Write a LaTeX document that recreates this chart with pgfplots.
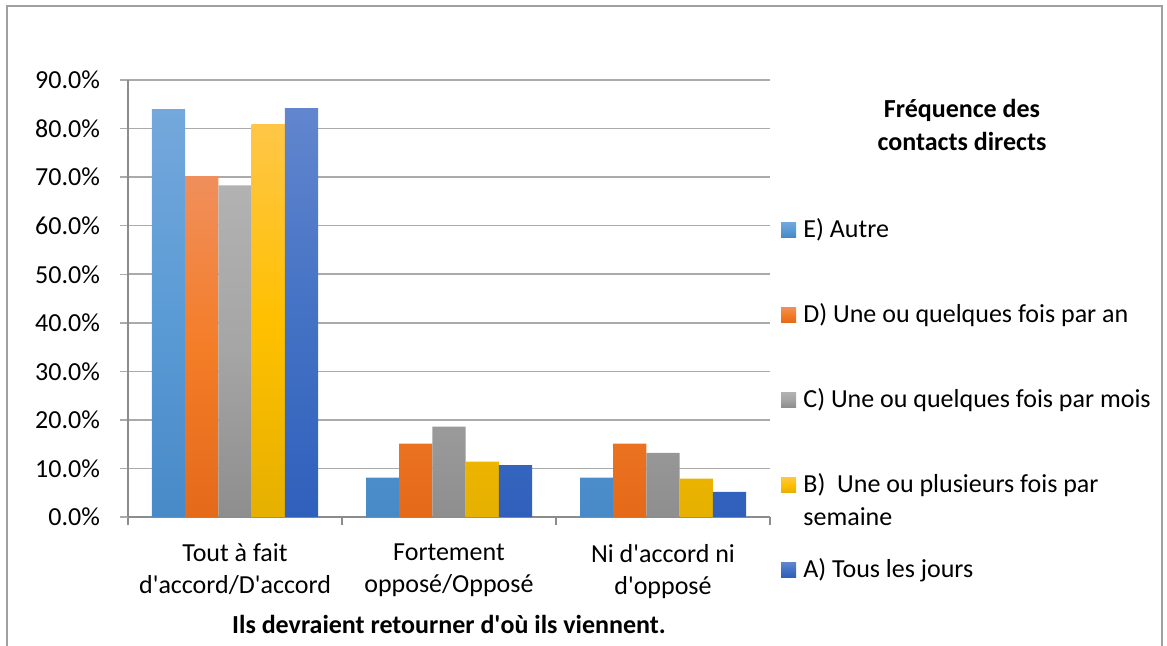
\documentclass[border=0pt]{standalone}
\usepackage{pgfplots}
\pgfplotsset{compat=1.18}
\usepackage{fontspec}
\setmainfont{Carlito}
\newcommand\q{\textquotesingle}
\definecolor{gridc}{RGB}{170,170,170}
\definecolor{axc}{RGB}{140,140,140}
\definecolor{frame}{RGB}{160,160,160}
\definecolor{Etop}{RGB}{116,168,220}\definecolor{Emid}{RGB}{91,155,213}\definecolor{Ebot}{RGB}{72,137,200}
\definecolor{Dtop}{RGB}{240,143,92}\definecolor{Dmid}{RGB}{244,125,40}\definecolor{Dbot}{RGB}{228,106,26}
\definecolor{Ctop}{RGB}{178,178,178}\definecolor{Cmid}{RGB}{165,165,165}\definecolor{Cbot}{RGB}{142,142,142}
\definecolor{Btop}{RGB}{255,198,72}\definecolor{Bmid}{RGB}{255,192,0}\definecolor{Bbot}{RGB}{230,176,0}
\definecolor{Atop}{RGB}{98,134,206}\definecolor{Amid}{RGB}{68,114,196}\definecolor{Abot}{RGB}{47,96,188}
\begin{document}
\fontsize{13}{16}\selectfont
\begin{tikzpicture}
\path[use as bounding box] (0,0) rectangle (583.5pt,-322.5pt);
\draw[frame, line width=0.6pt] (3.5pt,-330pt) -- (3.5pt,-3pt) -- (581pt,-3pt) -- (581pt,-330pt);
\begin{axis}[
  at={(64pt,-258.5pt)}, anchor=south west,
  width=321pt, height=218.5pt, scale only axis,
  xmin=-0.5, xmax=2.5, ymin=0, ymax=90,
  ytick={0,10,...,90},
  xtick={0,1,2},
  xticklabels={{Tout à fait\\d\q accord/D\q accord},{Fortement\\opposé/Opposé},{Ni d\q accord ni\\d\q opposé}},
  minor xtick={-0.5,0.5,1.5,2.5},
  xticklabel style={align=center, font=\fontsize{13}{16}\selectfont, yshift=-5pt},
  yticklabel style={font=\fontsize{13}{16}\selectfont, xshift=-5.5pt},
  yticklabel={\pgfmathprintnumber[fixed,fixed zerofill,precision=1]{\tick}\%},
  /pgf/number format/assume math mode=true,
  axis lines*=left,
  axis line style={axc, line width=0.7pt},
  tick align=outside,
  major x tick style={draw=none},
  minor x tick style={axc, line width=0.7pt},
  major y tick style={gridc, line width=0.7pt},
  major tick length=4pt, minor tick length=4pt,
  ymajorgrids, major grid style={gridc, line width=0.75pt},
  ybar=0pt, bar width=16.6pt,
  clip=false,
]
\addplot[draw=none, top color=Etop, bottom color=Ebot, middle color=Emid] coordinates {(0,84.0) (1,8.1) (2,8.1)};
\addplot[draw=none, top color=Dtop, bottom color=Dbot, middle color=Dmid] coordinates {(0,70.2) (1,15.1) (2,15.1)};
\addplot[draw=none, top color=Ctop, bottom color=Cbot, middle color=Cmid] coordinates {(0,68.3) (1,18.6) (2,13.2)};
\addplot[draw=none, top color=Btop, bottom color=Bbot, middle color=Bmid] coordinates {(0,80.9) (1,11.4) (2,7.9)};
\addplot[draw=none, top color=Atop, bottom color=Abot, middle color=Amid] coordinates {(0,84.2) (1,10.7) (2,5.2)};
\end{axis}
\begin{scope}[x=0.5pt, y=-0.5pt]
\node[anchor=base, font=\bfseries] at (449,633) {Ils devraient retourner d\q où ils viennent.};
\node[anchor=base, font=\bfseries] at (962,117) {Fréquence des};
\node[anchor=base, font=\bfseries] at (962,150) {contacts directs};
\fill[top color=Etop, bottom color=Ebot, middle color=Emid] (781,222) rectangle (796,237);
\node[anchor=base west, inner sep=0pt] at (803,237) {E) Autre};
\fill[top color=Dtop, bottom color=Dbot, middle color=Dmid] (781,307) rectangle (796,322);
\node[anchor=base west, inner sep=0pt] at (803,322) {D) Une ou quelques fois par an};
\fill[top color=Ctop, bottom color=Cbot, middle color=Cmid] (781,392) rectangle (796,407);
\node[anchor=base west, inner sep=0pt] at (803,407) {C) Une ou quelques fois par mois};
\fill[top color=Btop, bottom color=Bbot, middle color=Bmid] (781,477) rectangle (796,492);
\node[anchor=base west, inner sep=0pt] at (803,492) {B)\ \ Une ou plusieurs fois par};
\node[anchor=base west, inner sep=0pt] at (803,525) {semaine};
\fill[top color=Atop, bottom color=Abot, middle color=Amid] (781,562) rectangle (796,577);
\node[anchor=base west, inner sep=0pt] at (803,577) {A) Tous les jours};
\end{scope}
\end{tikzpicture}
\end{document}
